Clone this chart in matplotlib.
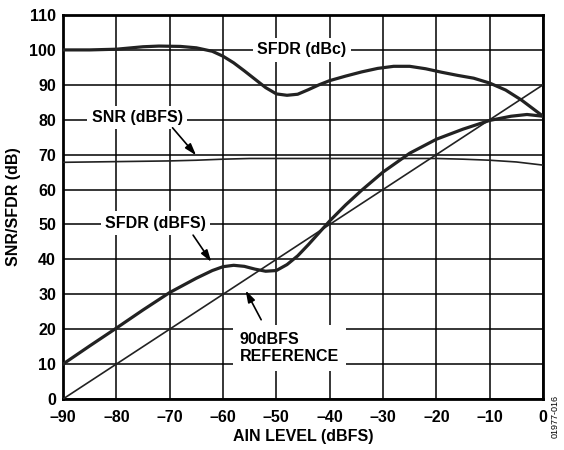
import matplotlib
matplotlib.use("Agg")
from matplotlib import pyplot as plt

plt.rcParams['font.family'] = ['Liberation Sans', 'DejaVu Sans']
plt.rcParams['font.weight'] = 'bold'

# SFDR (dBc)
x_dbc = [-90, -85, -80, -75, -72, -68, -65, -62, -60, -58, -56, -54, -52, -50, -48, -46,
         -44, -42, -40, -37, -34, -31, -28, -25, -22, -19, -16, -13, -10, -7, -4, -2, 0]
sfdr_dbc = [100, 100, 100.2, 100.9, 101.1, 101, 100.6, 99.6, 98.2, 96.3, 94, 91.6, 89.2, 87.4,
            87, 87.3, 88.6, 90, 91.2, 92.5, 93.7, 94.7, 95.3, 95.3, 94.6, 93.6, 92.7, 91.9,
            90.5, 88.5, 85.6, 83.3, 81]

# SNR (dBFS)
x_snr = [-90, -80, -70, -65, -60, -55, -50, -40, -30, -20, -15, -10, -5, 0]
snr = [67.8, 68.0, 68.2, 68.4, 68.7, 68.9, 68.9, 68.9, 68.9, 68.9, 68.7, 68.4, 67.9, 67.0]

# SFDR (dBFS)
x_dbfs = [-90, -85, -80, -75, -70, -65, -62, -60, -58, -56, -54, -52, -50, -48, -46, -44,
          -42, -40, -37, -34, -30, -25, -20, -15, -10, -6, -3, 0]
sfdr_dbfs = [10, 15.2, 20.3, 25.5, 30.5, 34.6, 36.8, 37.9, 38.3, 38.0, 37.2, 36.6, 36.8,
             38.5, 41.0, 44.2, 47.6, 51.0, 55.6, 59.8, 65.0, 70.4, 74.4, 77.3, 79.8, 81.0,
             81.5, 81.0]

# 90dBFS reference
x_ref = [-90, 0]
ref = [0, 90]

x_ticks = [-90, -80, -70, -60, -50, -40, -30, -20, -10, 0]
x_tick_labels = ['–90', '–80', '–70', '–60', '–50', '–40', '–30', '–20', '–10', '0']
y_ticks = list(range(0, 111, 10))

fig = plt.figure(figsize=(5.64, 4.5), dpi=100)
ax = fig.add_axes([63 / 564, 1 - 399 / 450, 480 / 564, 384 / 450])

ax.plot(x_dbc, sfdr_dbc, color='#222222', lw=2.3, zorder=4)
ax.plot(x_dbfs, sfdr_dbfs, color='#222222', lw=2.3, zorder=4)
ax.plot(x_snr, snr, color='#222222', lw=1.2, zorder=4)
ax.plot(x_ref, ref, color='#222222', lw=1.2, zorder=4)

ax.set_xlim(-90, 0)
ax.set_ylim(0, 110)
ax.set_xticks(x_ticks)
ax.set_xticklabels(x_tick_labels)
ax.set_yticks(y_ticks)
ax.tick_params(length=0, labelsize=11.5)
ax.tick_params(axis='x', pad=8)
ax.tick_params(axis='y', pad=5)
ax.grid(True, color='black', lw=1.1)
ax.set_axisbelow(True)
for s in ax.spines.values():
    s.set_linewidth(2)

ax.set_xlabel('AIN LEVEL (dBFS)', fontsize=11.5, fontweight='bold', labelpad=3)
ax.set_ylabel('SNR/SFDR (dB)', fontsize=11.5, fontweight='bold', labelpad=6)

box = dict(facecolor='white', edgecolor='none', pad=3)
arr = dict(arrowstyle='-|>,head_length=0.7,head_width=0.22', color='black', lw=1.2)

ax.text(-45.2, 100, 'SFDR (dBc)', ha='center', va='center', fontsize=11.5,
        bbox=box, zorder=3)
ax.text(-76.1, 80.6, 'SNR (dBFS)', ha='center', va='center', fontsize=11.5,
        bbox=box, zorder=3)
ax.annotate('', xy=(-64.7, 69.2), xytext=(-69.8, 78.3), arrowprops=arr, zorder=5)
ax.text(-72.7, 50.4, 'SFDR (dBFS)', ha='center', va='center', fontsize=11.5,
        bbox=box, zorder=3)
ax.annotate('', xy=(-61.9, 38.6), xytext=(-65.9, 47.6), arrowprops=arr, zorder=5)
ax.text(-56.9, 14.6, '90dBFS\nREFERENCE', ha='left', va='center', fontsize=11.5,
        linespacing=1.2, bbox=dict(facecolor='white', edgecolor='none', pad=5), zorder=3)
ax.annotate('', xy=(-56.0, 31.8), xytext=(-52.6, 22.0), arrowprops=arr, zorder=5)

fig.text(555 / 564, 1 - 416 / 450, '01977-016', rotation=90, ha='center', va='center',
         fontsize=6.5, fontweight='normal')

fig.savefig('out.png', dpi=100)
